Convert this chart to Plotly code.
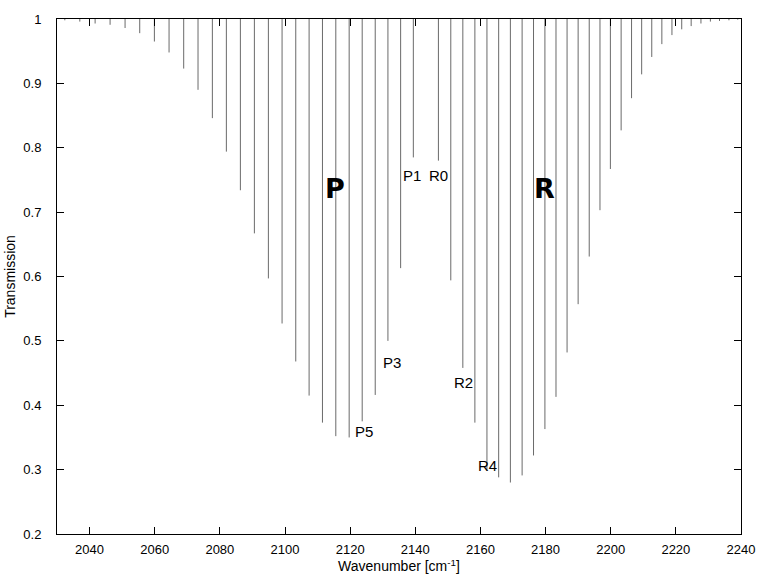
import plotly.graph_objects as go

# CO fundamental band: line positions (cm^-1) and peak transmission
p_wavenumber = [2139.4, 2135.5, 2131.6, 2127.7, 2123.7, 2119.7, 2115.6, 2111.5,
                2107.4, 2103.3, 2099.1, 2094.9, 2090.6, 2086.3, 2082.0, 2077.7,
                2073.3, 2068.9, 2064.4, 2059.9, 2055.4, 2050.9, 2046.3, 2041.7,
                2037.0, 2032.4]
p_transmission = [0.785, 0.613, 0.500, 0.416, 0.375, 0.350, 0.352, 0.373,
                  0.415, 0.468, 0.527, 0.597, 0.667, 0.734, 0.794, 0.846,
                  0.890, 0.923, 0.948, 0.965, 0.978, 0.986, 0.991, 0.993,
                  0.996, 0.998]

r_wavenumber = [2147.1, 2150.9, 2154.6, 2158.3, 2162.0, 2165.6, 2169.2, 2172.8,
                2176.3, 2179.8, 2183.2, 2186.6, 2190.0, 2193.4, 2196.7, 2199.9,
                2203.2, 2206.4, 2209.5, 2212.6, 2215.7, 2218.8, 2221.8, 2224.7,
                2227.7, 2230.6, 2233.4, 2236.3, 2239.0]
r_transmission = [0.780, 0.594, 0.458, 0.373, 0.299, 0.288, 0.280, 0.291,
                  0.322, 0.363, 0.413, 0.482, 0.557, 0.631, 0.703, 0.767,
                  0.827, 0.877, 0.914, 0.941, 0.961, 0.975, 0.984, 0.989,
                  0.993, 0.996, 0.997, 0.998, 0.999]

# labelled lines: (text, x, y)
line_labels = ["P1", "R0", "P3", "R2", "P5", "R4"]
line_label_x = [2139.0, 2147.0, 2132.8, 2154.9, 2124.2, 2162.2]
line_label_y = [0.757, 0.757, 0.466, 0.436, 0.360, 0.306]

branch_labels = ["P", "R"]
branch_label_x = [2115.2, 2179.8]
branch_label_y = [0.737, 0.737]

x_ticks = list(range(2040, 2241, 20))
y_ticks = [0.2, 0.3, 0.4, 0.5, 0.6, 0.7, 0.8, 0.9, 1.0]
y_tick_text = ["0.2", "0.3", "0.4", "0.5", "0.6", "0.7", "0.8", "0.9", "1"]

# each absorption line is a vertical stroke from the baseline down to its minimum
xs, ys = [], []
for w, t in zip(p_wavenumber + r_wavenumber, p_transmission + r_transmission):
    xs += [w, w, None]
    ys += [1.0, t, None]

fig = go.Figure()
fig.add_trace(go.Scatter(
    x=xs, y=ys, mode="lines",
    line=dict(color="#6a6a6a", width=1),
    hoverinfo="skip", showlegend=False,
))

font_main = "Liberation Sans, Arial, sans-serif"
annotations = []
for txt, x, y in zip(line_labels, line_label_x, line_label_y):
    annotations.append(dict(x=x, y=y, text=txt, showarrow=False,
                            xanchor="center", yanchor="middle",
                            font=dict(family=font_main, size=15, color="black")))
for txt, x, y in zip(branch_labels, branch_label_x, branch_label_y):
    annotations.append(dict(x=x, y=y, text="<b>" + txt + "</b>", showarrow=False,
                            xanchor="center", yanchor="middle",
                            font=dict(family="DejaVu Sans, sans-serif", size=27,
                                      color="black")))

axis_common = dict(
    showline=True, linecolor="black", linewidth=1, mirror="ticks",
    ticks="inside", ticklen=7, tickcolor="black", tickwidth=1,
    showgrid=False, zeroline=False,
    tickfont=dict(family=font_main, size=13, color="black"),
)

fig.update_layout(
    width=762, height=584,
    margin=dict(l=57, r=21, t=19, b=50, autoexpand=False),
    paper_bgcolor="white", plot_bgcolor="white",
    xaxis=dict(range=[2030, 2240], tickvals=x_ticks, automargin=False,
               ticklabelstandoff=3,
               title=dict(text="Wavenumber [cm<sup>-1</sup>]",
                          font=dict(family=font_main, size=14, color="black"),
                          standoff=3),
               **axis_common),
    yaxis=dict(range=[0.2, 1.0], tickvals=y_ticks, ticktext=y_tick_text,
               automargin=False, ticklabelstandoff=12,
               title=dict(text="Transmission",
                          font=dict(family=font_main, size=14, color="black"),
                          standoff=4),
               **axis_common),
    annotations=annotations,
)

fig.write_html("out.html")
